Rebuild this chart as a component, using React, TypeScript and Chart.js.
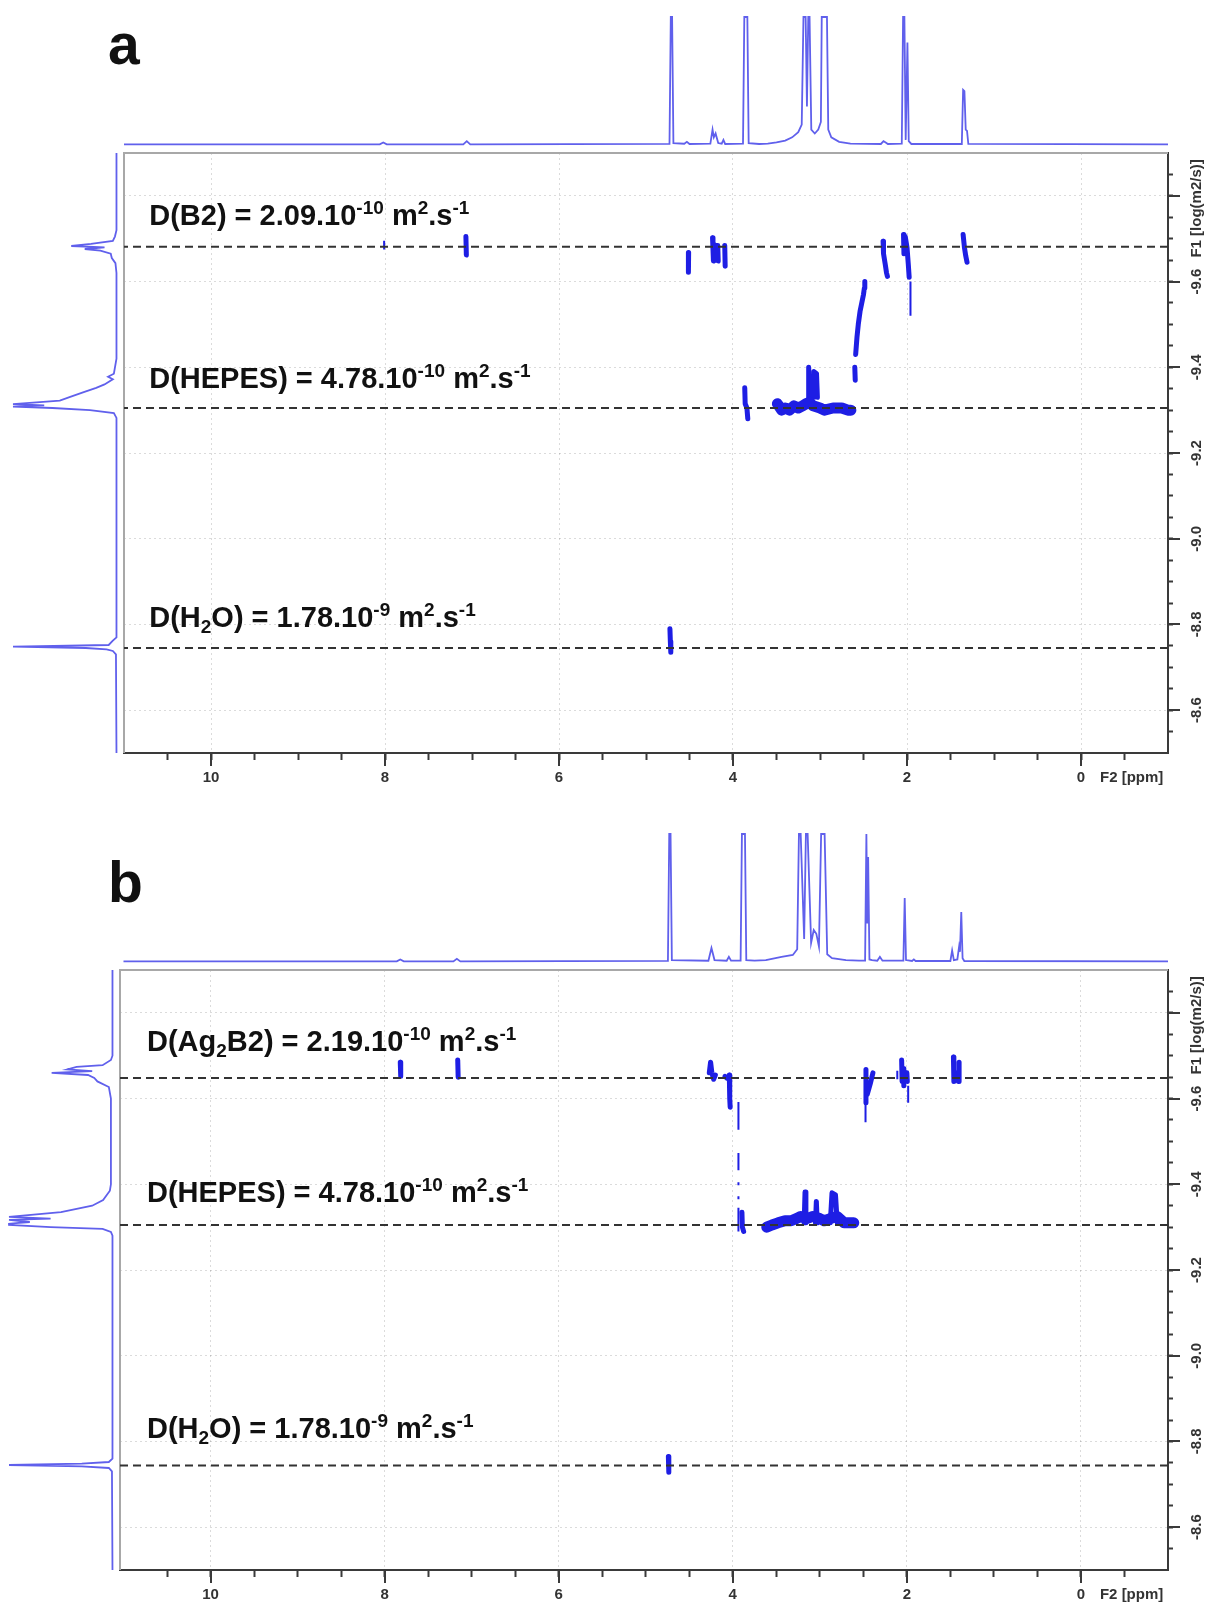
import React, { useEffect, useRef } from 'react';
import { Chart, registerables } from 'chart.js';

Chart.register(...registerables);

const FONT = '"Liberation Sans", Arial, Helvetica, sans-serif';
const SPEC_COLOR = 'rgb(96,96,236)';
const PEAK_COLOR = 'rgb(30,30,228)';
const AXIS_COLOR = '#3a3a3a';
const GRID_COLOR = 'rgba(0,0,0,0.14)';
const NONE = 'rgba(0,0,0,0)';

// ---------------- axes ----------------
const PPM_MIN = -1.0;
const LOGD_MIN = -9.9;
const LOGD_MAX = -8.5;
const PPM_MAJOR = [10, 8, 6, 4, 2, 0];
const LOGD_MAJOR = [-9.8, -9.6, -9.4, -9.2, -9.0, -8.8, -8.6];
const LOGD_LABELLED = [-9.6, -9.4, -9.2, -9.0, -8.8, -8.6];

// ---------------- panel a data ----------------
const topPpmA = [11.0, 8.06, 8.02, 7.98, 7.10, 7.06, 7.02, 4.73, 4.715, 4.700, 4.685, 4.56, 4.53, 4.50, 4.26, 4.235, 4.22, 4.20, 4.17, 4.13, 4.11, 4.09, 3.885, 3.87, 3.835, 3.82, 3.70, 3.60, 3.50, 3.40, 3.32, 3.25, 3.21, 3.19, 3.165, 3.15, 3.135, 3.12, 3.10, 3.06, 3.02, 2.99, 2.98, 2.95, 2.92, 2.905, 2.87, 2.78, 2.65, 2.30, 2.27, 2.245, 2.22, 2.06, 2.045, 2.03, 2.015, 1.995, 1.98, 1.95, 1.37, 1.355, 1.34, 1.325, 1.31, 1.295, -1.0];
const topIntA = [0.5, 0.5, 2, 0.5, 0.5, 3, 0.5, 0.8, 100, 100, 1.5, 1, 2.5, 0.8, 1, 12, 6, 9, 1.5, 1, 4, 0.8, 1, 100, 100, 1.5, 0.8, 1, 2, 3.5, 6, 10, 16, 100, 100, 30, 100, 100, 12, 9, 12, 18, 100, 100, 100, 12, 6, 2.5, 1, 0.8, 3, 2, 0.8, 1, 100, 100, 4, 80, 3, 0.8, 0.8, 43, 42, 12, 11, 0.8, 0.5];

const leftLogDA = [-9.9, -9.72, -9.705, -9.695, -9.688, -9.683, -9.680, -9.676, -9.672, -9.665, -9.655, -9.643, -9.62, -9.42, -9.385, -9.378, -9.372, -9.36, -9.352, -9.342, -9.331, -9.322, -9.314, -9.311, -9.308, -9.305, -9.30, -9.293, -9.282, -8.77, -8.762, -8.752, -8.748, -8.745, -8.742, -8.738, -8.73, -8.5];
const leftIntA = [0.5, 0.5, 2, 4, 25, 44, 12, 31, 16, 6, 5, 1.5, 0.5, 0.5, 3, 8.6, 4, 12, 20, 32, 45, 55, 100, 70, 100, 62, 26, 3, 0.5, 0.5, 4, 8, 100, 30, 10, 4, 1, 0.5];

type Path = [number, number][];

const peaksThickA: Path[] = [
  [[7.07, -9.705], [7.065, -9.662]],
  [[4.51, -9.668], [4.515, -9.645], [4.51, -9.622]],
  [[4.235, -9.702], [4.23, -9.675], [4.225, -9.648]],
  [[4.20, -9.685], [4.195, -9.65]],
  [[4.175, -9.684], [4.17, -9.648]],
  [[4.095, -9.684], [4.09, -9.636]],
  [[2.275, -9.694], [2.27, -9.665], [2.25, -9.64], [2.235, -9.62], [2.225, -9.612]],
  [[2.04, -9.71], [2.035, -9.665]],
  [[2.02, -9.705], [2.0, -9.68], [1.985, -9.64], [1.975, -9.61]],
  [[1.355, -9.71], [1.34, -9.68], [1.325, -9.66], [1.31, -9.645]],
  [[3.865, -9.352], [3.86, -9.315], [3.84, -9.305], [3.83, -9.28]],
  [[3.135, -9.32], [3.13, -9.40], [3.12, -9.33]],
  [[3.075, -9.33], [3.07, -9.39], [3.04, -9.385], [3.03, -9.33]],
  [[2.60, -9.40], [2.595, -9.37]],
  [[2.59, -9.43], [2.575, -9.47], [2.56, -9.50], [2.54, -9.53], [2.52, -9.55], [2.50, -9.57], [2.49, -9.585], [2.485, -9.60]],
  [[4.725, -8.79], [4.72, -8.76], [4.715, -8.735]],
];
const peaksBandA: Path[] = [
  [[3.49, -9.315], [3.44, -9.30], [3.40, -9.305], [3.35, -9.30], [3.30, -9.31], [3.25, -9.305], [3.20, -9.31], [3.16, -9.315], [3.12, -9.318], [3.08, -9.31], [3.0, -9.305], [2.95, -9.30], [2.85, -9.305], [2.75, -9.305], [2.68, -9.30], [2.645, -9.30]],
];
const peaksThinA: Path[] = [
  [[8.01, -9.695], [8.01, -9.675]],
  [[1.96, -9.60], [1.96, -9.52]],
];
const dashedA = [-9.681, -9.305, -8.745];
const labelsA = [
  { ppm: 10.71, logD: -9.732, text: 'D(B2) = 2.09.10^{-10} m^{2}.s^{-1}' },
  { ppm: 10.71, logD: -9.352, text: 'D(HEPES) = 4.78.10^{-10} m^{2}.s^{-1}' },
  { ppm: 10.71, logD: -8.794, text: 'D(H_{2}O) = 1.78.10^{-9} m^{2}.s^{-1}' },
];

// ---------------- panel b data ----------------
const topPpmB = [11.0, 7.86, 7.82, 7.78, 7.21, 7.17, 7.13, 4.745, 4.73, 4.715, 4.70, 4.28, 4.245, 4.21, 4.07, 4.045, 4.02, 3.91, 3.895, 3.86, 3.845, 3.75, 3.62, 3.44, 3.31, 3.26, 3.24, 3.22, 3.18, 3.16, 3.14, 3.10, 3.07, 3.04, 3.01, 2.985, 2.945, 2.915, 2.86, 2.70, 2.55, 2.48, 2.465, 2.455, 2.445, 2.43, 2.40, 2.34, 2.31, 2.28, 2.04, 2.025, 2.01, 1.94, 1.92, 1.90, 1.50, 1.48, 1.46, 1.42, 1.40, 1.39, 1.375, 1.36, 1.34, -1.0];
const topIntB = [0.5, 0.5, 2, 0.5, 0.5, 2.5, 0.5, 0.8, 100, 100, 1.5, 1, 11, 1.5, 1, 4, 1, 1, 100, 100, 1.5, 1, 1.5, 4, 5.5, 10, 100, 100, 18, 100, 100, 15, 25, 22, 12, 100, 100, 6, 3, 1.5, 1, 1, 100, 30, 82, 2, 1.5, 1, 4, 1, 1, 50, 1.5, 0.8, 2, 0.8, 0.8, 9, 1.5, 2, 12, 8, 39, 3, 0.8, 0.5];

const leftLogDB = [-9.9, -9.70, -9.69, -9.678, -9.674, -9.668, -9.664, -9.660, -9.655, -9.648, -9.640, -9.627, -9.60, -9.50, -9.40, -9.385, -9.363, -9.35, -9.335, -9.324, -9.320, -9.317, -9.312, -9.308, -9.305, -9.300, -9.296, -9.289, -9.28, -8.76, -8.752, -8.748, -8.745, -8.742, -8.738, -8.73, -8.5];
const leftIntB = [0.5, 0.5, 2, 10, 35, 44, 20, 59, 24, 18, 15, 4, 2, 2, 2, 3, 9.5, 20, 50, 100, 60, 100, 80, 100, 100, 60, 10, 2, 0.5, 0.5, 4, 30, 100, 30, 4, 1, 0.5];

const peaksThickB: Path[] = [
  [[7.82, -9.685], [7.815, -9.652]],
  [[7.16, -9.69], [7.155, -9.65]],
  [[4.27, -9.66], [4.255, -9.685], [4.24, -9.66], [4.22, -9.645], [4.20, -9.655]],
  [[4.09, -9.652], [4.07, -9.648]],
  [[4.04, -9.655], [4.035, -9.60], [4.03, -9.58]],
  [[3.895, -9.335], [3.89, -9.30], [3.875, -9.29]],
  [[2.47, -9.668], [2.47, -9.59]],
  [[2.455, -9.61], [2.42, -9.635], [2.39, -9.66]],
  [[2.06, -9.69], [2.055, -9.64]],
  [[2.04, -9.67], [2.035, -9.63]],
  [[2.0, -9.66], [1.995, -9.64]],
  [[1.465, -9.697], [1.46, -9.64]],
  [[1.44, -9.66], [1.415, -9.655], [1.41, -9.64]],
  [[1.40, -9.685], [1.40, -9.64]],
  [[3.18, -9.31], [3.17, -9.382], [3.16, -9.31]],
  [[3.05, -9.31], [3.04, -9.36], [3.03, -9.31]],
  [[2.88, -9.31], [2.86, -9.38], [2.82, -9.375], [2.80, -9.31]],
  [[4.74, -8.765], [4.735, -8.728]],
];
const peaksBandB: Path[] = [
  [[3.61, -9.30], [3.55, -9.305], [3.48, -9.31], [3.40, -9.315], [3.33, -9.315], [3.27, -9.32], [3.22, -9.325], [3.15, -9.32], [3.08, -9.325], [3.0, -9.32], [2.95, -9.315], [2.88, -9.32], [2.80, -9.325], [2.72, -9.31], [2.65, -9.31], [2.61, -9.31]],
];
const peaksThinB: Path[] = [
  [[3.935, -9.592], [3.935, -9.527]],
  [[3.935, -9.473], [3.935, -9.433]],
  [[3.935, -9.405], [3.935, -9.398]],
  [[3.935, -9.372], [3.935, -9.365]],
  [[3.935, -9.345], [3.935, -9.29]],
  [[2.475, -9.59], [2.475, -9.545]],
  [[1.985, -9.63], [1.985, -9.59]],
  [[2.11, -9.665], [2.11, -9.645]],
];
const dashedB = [-9.648, -9.305, -8.744];
const labelsB = [
  { ppm: 10.73, logD: -9.711, text: 'D(Ag_{2}B2) = 2.19.10^{-10} m^{2}.s^{-1}' },
  { ppm: 10.73, logD: -9.359, text: 'D(HEPES) = 4.78.10^{-10} m^{2}.s^{-1}' },
  { ppm: 10.73, logD: -8.808, text: 'D(H_{2}O) = 1.78.10^{-9} m^{2}.s^{-1}' },
];

// ---------------- layout ----------------
const CANVAS_W = 1206;
const CANVAS_H = 792;
const FRAME_TOP = 153;
const FRAME_BOTTOM = 753;
const FRAME_RIGHT = 1168;
const TOP_BASE_PX = 145; // projection baseline pixel (top spectrum)
const TOP_FULL_PX = 17; // pixel of intensity 100

interface PanelSpec {
  letter: string;
  top: number;
  letterBaseline: number;
  frameLeft: number;
  ppmMax: number;
  leftBasePx: number;
  leftFullPx: number;
  topPpm: number[];
  topInt: number[];
  leftLogD: number[];
  leftInt: number[];
  thick: Path[];
  band: Path[];
  thin: Path[];
  dashed: number[];
  labels: { ppm: number; logD: number; text: string }[];
}

const PANEL_A: PanelSpec = {
  letter: 'a', top: 0, letterBaseline: 64, frameLeft: 124, ppmMax: 11.0, leftBasePx: 117, leftFullPx: 13,
  topPpm: topPpmA, topInt: topIntA, leftLogD: leftLogDA, leftInt: leftIntA,
  thick: peaksThickA, band: peaksBandA, thin: peaksThinA, dashed: dashedA, labels: labelsA,
};
const PANEL_B: PanelSpec = {
  letter: 'b', top: 817, letterBaseline: 85, frameLeft: 120, ppmMax: 11.04, leftBasePx: 113, leftFullPx: 9,
  topPpm: topPpmB, topInt: topIntB, leftLogD: leftLogDB, leftInt: leftIntB,
  thick: peaksThickB, band: peaksBandB, thin: peaksThinB, dashed: dashedB, labels: labelsB,
};

const near = (a: number, b: number) => Math.abs(a - b) < 1e-6;
const isIn = (v: number, arr: number[]) => arr.some((m) => near(v, m));

function pathsToData(paths: Path[]) {
  const out: { x: number; y: number | null }[] = [];
  paths.forEach((p, i) => {
    if (i > 0) out.push({ x: p[0][0], y: null });
    p.forEach(([x, y]) => out.push({ x, y }));
  });
  return out;
}

function drawRich(ctx: CanvasRenderingContext2D, x: number, y: number, text: string) {
  const parts = text.split(/(\^\{[^}]*\}|_\{[^}]*\})/).filter((s) => s.length > 0);
  let cx = x;
  for (const p of parts) {
    let t = p;
    let size = 29;
    let dy = 0;
    if (p.startsWith('^{')) {
      t = p.slice(2, -1); size = 19; dy = -11;
    } else if (p.startsWith('_{')) {
      t = p.slice(2, -1); size = 19; dy = 6;
    }
    ctx.font = `bold ${size}px ${FONT}`;
    ctx.fillText(t, cx, y + dy);
    cx += ctx.measureText(t).width;
  }
}

function makeDecor(spec: PanelSpec) {
  return {
    id: 'decor_' + spec.letter,
    beforeDatasetsDraw(chart: any) {
      const { ctx, chartArea: a } = chart;
      ctx.save();
      ctx.strokeStyle = '#a8a8a8';
      ctx.lineWidth = 2;
      ctx.beginPath();
      ctx.moveTo(a.left, a.bottom);
      ctx.lineTo(a.left, a.top);
      ctx.lineTo(a.right, a.top);
      ctx.stroke();
      ctx.restore();
    },
    afterDraw(chart: any) {
      const { ctx, chartArea: a, scales } = chart;
      const xs = scales.x;
      const ys = scales.y;
      ctx.save();
      ctx.strokeStyle = AXIS_COLOR;
      ctx.lineWidth = 2;
      ctx.beginPath();
      for (const v of PPM_MAJOR) {
        const px = Math.round(xs.getPixelForValue(v));
        ctx.moveTo(px, a.bottom);
        ctx.lineTo(px, a.bottom + 13);
      }
      for (const v of LOGD_MAJOR) {
        const py = Math.round(ys.getPixelForValue(v));
        ctx.moveTo(a.right, py);
        ctx.lineTo(a.right + 12, py);
      }
      ctx.stroke();

      ctx.fillStyle = '#333';
      ctx.font = `bold 15px ${FONT}`;
      ctx.textBaseline = 'middle';
      ctx.textAlign = 'left';
      ctx.fillText('F2 [ppm]', xs.getPixelForValue(0) + 19, a.bottom + 25);
      ctx.save();
      ctx.translate(a.right + 29, ys.getPixelForValue(-9.6) - 24);
      ctx.rotate(-Math.PI / 2);
      ctx.fillText('F1 [log(m2/s)]', 0, 0);
      ctx.restore();

      ctx.fillStyle = '#111';
      ctx.textBaseline = 'alphabetic';
      for (const l of spec.labels) {
        drawRich(ctx, xs.getPixelForValue(l.ppm), ys.getPixelForValue(l.logD), l.text);
      }
      ctx.font = `bold 57px ${FONT}`;
      ctx.fillStyle = '#111';
      ctx.fillText(spec.letter, 108, spec.letterBaseline);
      ctx.restore();
    },
  };
}

function buildConfig(spec: PanelSpec): any {
  const areaH = FRAME_BOTTOM - FRAME_TOP;
  const areaW = FRAME_RIGHT - spec.frameLeft;
  const topR = (100 * areaH) / (TOP_BASE_PX - TOP_FULL_PX);
  const topMin = -((FRAME_BOTTOM - TOP_BASE_PX) / areaH) * topR;
  const leftR = (100 * areaW) / (spec.leftBasePx - spec.leftFullPx);
  const leftMin = -((FRAME_RIGHT - spec.leftBasePx) / areaW) * leftR;
  const ppmMax = spec.ppmMax;

  const datasets: any[] = [];
  spec.dashed.forEach((v) => {
    datasets.push({
      data: [{ x: PPM_MIN, y: v }, { x: ppmMax, y: v }],
      borderColor: '#333', borderWidth: 2, borderDash: [8, 5], order: 0,
    });
  });
  datasets.push({ data: pathsToData(spec.band), borderColor: PEAK_COLOR, borderWidth: 11, borderCapStyle: 'round', borderJoinStyle: 'round', order: 1 });
  datasets.push({ data: pathsToData(spec.thick), borderColor: PEAK_COLOR, borderWidth: 5, borderCapStyle: 'round', borderJoinStyle: 'round', order: 1 });
  datasets.push({ data: pathsToData(spec.thin), borderColor: PEAK_COLOR, borderWidth: 2, borderCapStyle: 'butt', order: 1 });
  datasets.push({
    data: spec.topPpm.map((p, i) => ({ x: p, y: spec.topInt[i] })),
    yAxisID: 'yTop', borderColor: SPEC_COLOR, borderWidth: 1.8, clip: false, order: 2,
  });
  datasets.push({
    data: spec.leftLogD.map((d, i) => ({ x: spec.leftInt[i], y: d })),
    xAxisID: 'xLeft', borderColor: SPEC_COLOR, borderWidth: 1.8, clip: false, order: 2,
  });
  datasets.forEach((d) => {
    d.showLine = true; d.pointRadius = 0; d.fill = false; d.spanGaps = false; d.tension = 0;
  });

  const tickFont = { family: FONT, size: 15, weight: 'bold' };
  return {
    type: 'scatter',
    data: { datasets },
    options: {
      responsive: false,
      animation: false,
      events: [],
      layout: { padding: { left: spec.frameLeft, top: FRAME_TOP, right: 0, bottom: 0 } },
      plugins: { legend: { display: false }, tooltip: { enabled: false } },
      scales: {
        x: {
          type: 'linear', position: 'bottom', min: PPM_MIN, max: ppmMax, reverse: true,
          afterFit: (s: any) => { s.height = CANVAS_H - FRAME_BOTTOM; },
          grid: {
            color: (c: any) => (c.tick && isIn(c.tick.value, PPM_MAJOR) ? GRID_COLOR : NONE),
            tickColor: (c: any) => (c.tick && (near(c.tick.value, PPM_MIN) || c.tick.value > 10.9) ? NONE : AXIS_COLOR),
            lineWidth: 1, tickLength: 7, tickWidth: 2,
          },
          border: { display: true, color: AXIS_COLOR, width: 2, dash: [2, 3] },
          ticks: {
            stepSize: 0.5, autoSkip: false, includeBounds: false, maxRotation: 0, minRotation: 0,
            padding: 9, color: '#333', font: tickFont,
            callback: (v: number) => (isIn(v, PPM_MAJOR) ? String(Math.round(v)) : ''),
          },
        },
        y: {
          type: 'linear', position: 'right', min: LOGD_MIN, max: LOGD_MAX, reverse: true,
          afterFit: (s: any) => { s.width = CANVAS_W - FRAME_RIGHT; },
          grid: {
            color: (c: any) => (c.tick && isIn(c.tick.value, LOGD_MAJOR) ? GRID_COLOR : NONE),
            tickColor: (c: any) => (c.tick && (near(c.tick.value, LOGD_MIN) || near(c.tick.value, LOGD_MAX)) ? NONE : AXIS_COLOR),
            lineWidth: 1, tickLength: 5, tickWidth: 2,
          },
          border: { display: true, color: AXIS_COLOR, width: 2, dash: [2, 3] },
          ticks: {
            stepSize: 0.05, autoSkip: false, includeBounds: false, minRotation: 90, maxRotation: 90,
            crossAlign: 'center', padding: 11, color: '#333', font: tickFont,
            callback: (v: number) => (isIn(v, LOGD_LABELLED) ? v.toFixed(1) : ''),
          },
        },
        yTop: { type: 'linear', axis: 'y', display: false, min: topMin, max: topMin + topR },
        xLeft: { type: 'linear', axis: 'x', display: false, reverse: true, min: leftMin, max: leftMin + leftR },
      },
    },
    plugins: [makeDecor(spec)],
  };
}

function Panel({ spec }: { spec: PanelSpec }) {
  const ref = useRef<HTMLCanvasElement>(null);
  useEffect(() => {
    if (!ref.current) return;
    const chart = new Chart(ref.current, buildConfig(spec));
    return () => chart.destroy();
  }, [spec]);
  return (
    <canvas
      ref={ref}
      width={CANVAS_W}
      height={CANVAS_H}
      style={{ position: 'absolute', left: 0, top: spec.top, width: CANVAS_W, height: CANVAS_H }}
    />
  );
}

export default function App() {
  return (
    <div style={{ position: 'absolute', left: 0, top: 0, width: 1206, height: 1609, background: '#fff', overflow: 'hidden' }}>
      <Panel spec={PANEL_A} />
      <Panel spec={PANEL_B} />
    </div>
  );
}
